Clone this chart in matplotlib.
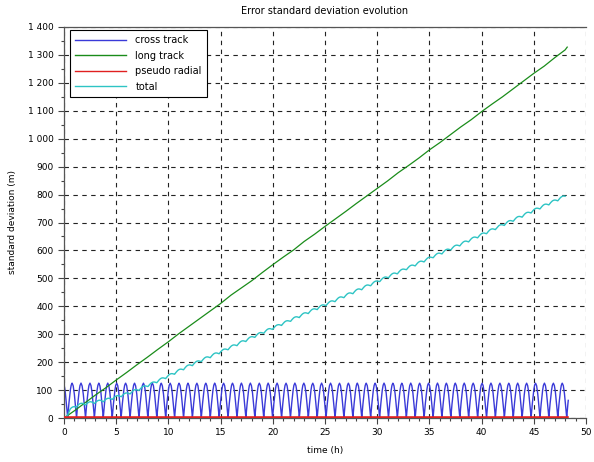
import numpy as np
import matplotlib
matplotlib.use("Agg")
import matplotlib.pyplot as plt
from matplotlib.ticker import FuncFormatter, MultipleLocator

# cross track: times (h) where the oscillation touches zero, and the shape of one arch
cross_troughs = [-0.50, 0.35, 1.20, 2.06, 2.91, 3.76, 4.62, 5.47, 6.33, 7.18, 8.03,
                 8.89, 9.74, 10.59, 11.45, 12.30, 13.15, 14.01, 14.86, 15.71, 16.57,
                 17.42, 18.28, 19.13, 19.98, 20.84, 21.69, 22.54, 23.40, 24.25, 25.10,
                 25.96, 26.81, 27.67, 28.52, 29.37, 30.23, 31.08, 31.93, 32.79, 33.64,
                 34.49, 35.35, 36.20, 37.05, 37.91, 38.76, 39.62, 40.47, 41.32, 42.18,
                 43.03, 43.88, 44.74, 45.59, 46.44, 47.30, 48.15, 49.00]
arch_phase = [0.0, 0.05, 0.1, 0.17, 0.27, 0.38, 0.5, 0.62, 0.73, 0.83, 0.9, 0.95, 1.0]
arch_value = [0, 20, 39, 61, 93, 116, 125, 116, 93, 61, 39, 20, 0]
cross_end = 48.3

# long track
long_t = [0, 1, 2, 3, 4, 5, 6, 7, 8, 9, 10, 11, 12, 13, 14, 15, 16, 17, 18, 19, 20,
          21, 22, 23, 24, 25, 26, 27, 28, 29, 30, 31, 32, 33, 34, 35, 36, 37, 38, 39,
          40, 41, 42, 43, 44, 45, 46, 47, 48, 48.2]
long_v = [0, 26, 54, 82, 108, 136, 163, 191, 218, 246, 273, 302, 329, 356, 383, 410,
          440, 466, 492, 521, 549, 576, 602, 632, 658, 686, 713, 740, 768, 795, 822,
          849, 878, 904, 931, 960, 986, 1014, 1042, 1068, 1097, 1124, 1150, 1178, 1206,
          1234, 1260, 1290, 1318, 1328]

# pseudo radial (flat at zero)
radial_t = [0, 48.2]
radial_v = [0, 0]

# total
total_t = [0.2, 0.6, 1.3, 2.2, 3.2, 4.2, 5.1, 6.0, 7.0, 8.5, 10, 11.6, 13.5, 15.5,
           18.8, 22, 25, 28, 31, 34, 37.4, 40, 42.7, 45, 48.0]
total_v = [5, 30, 46, 52, 58, 66, 76, 86, 100, 124, 150, 180, 212, 245, 302, 355,
           405, 455, 505, 555, 612, 656, 703, 743, 794]
total_ripple = 9

# build curves
t = np.linspace(0, cross_end, 4000)
idx = np.interp(t, cross_troughs, np.arange(len(cross_troughs)))
cross = np.interp(idx - np.floor(idx), arch_phase, arch_value)

tt = t[(t >= total_t[0]) & (t <= total_t[-1])]
idx2 = np.interp(tt, cross_troughs, np.arange(len(cross_troughs)))
rip = np.interp(idx2 - np.floor(idx2), arch_phase, arch_value) / max(arch_value)
total = np.interp(tt, total_t, total_v) + total_ripple * (rip - 0.5)

fig = plt.figure(figsize=(5.94, 4.62), dpi=100)
ax = fig.add_axes([64/594, 1-418/462, 522/594, 391/462])

ax.plot(t, cross, color="#3a3ad8", lw=1.0, label="cross track")
ax.plot(long_t, long_v, color="#1a8c1a", lw=0.9, label="long track")
ax.plot(radial_t, radial_v, color="#e02020", lw=2.6, label="pseudo radial", zorder=5)
ax.plot(tt, total, color="#2ec4c4", lw=1.0, label="total")

ax.set_xlim(0, 50)
ax.set_ylim(0, 1400)
ax.xaxis.set_major_locator(MultipleLocator(5))
ax.xaxis.set_minor_locator(MultipleLocator(1))
ax.yaxis.set_major_locator(MultipleLocator(100))
ax.yaxis.set_minor_locator(MultipleLocator(50))
ax.yaxis.set_major_formatter(FuncFormatter(lambda v, p: f"{int(v):,}".replace(",", " ")))

ax.tick_params(which="both", direction="out", labelsize=6.5, color="#444444", width=0.8)
ax.tick_params(which="major", length=4)
ax.tick_params(which="minor", length=2)
ax.grid(which="major", color="#222222", linestyle=(0, (4, 4)), linewidth=0.8)
for s in ax.spines.values():
    s.set_color("#555555")
    s.set_linewidth(0.9)
ax.spines["right"].set_visible(False)

ax.set_title("Error standard deviation evolution", fontsize=7, pad=9)
ax.set_xlabel("time (h)", fontsize=6.5, labelpad=6)
ax.set_ylabel("standard deviation (m)", fontsize=6.5, labelpad=8)

leg = ax.legend(loc="upper left", bbox_to_anchor=(0.011, 0.992), borderaxespad=0,
                fontsize=7, handlelength=5.2, labelspacing=0.55, fancybox=False,
                framealpha=1, edgecolor="black", borderpad=0.55, handletextpad=1.0)
leg.get_frame().set_linewidth(0.8)
for ln in leg.get_lines():
    ln.set_linewidth(1.0)

fig.savefig("out.png", dpi=100)
